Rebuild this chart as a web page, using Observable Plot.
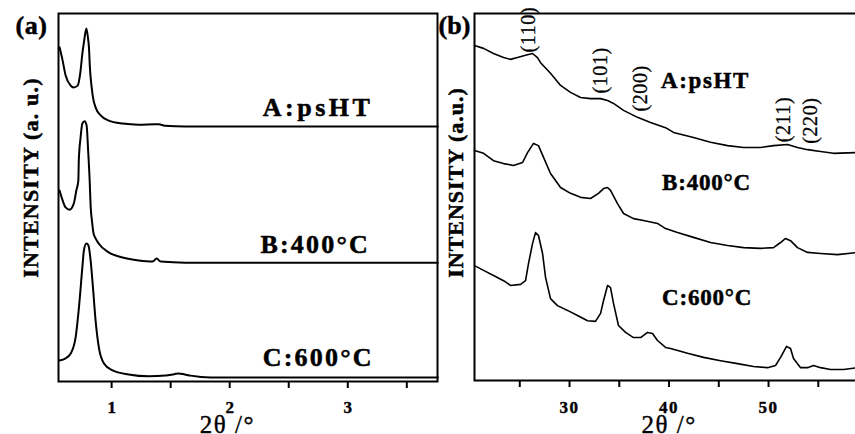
<!DOCTYPE html>
<html>
<head>
<meta charset="utf-8">
<script src="https://cdn.jsdelivr.net/npm/d3@7"></script>
<script src="https://cdn.jsdelivr.net/npm/@observablehq/plot@0.6"></script>
<style>
  html, body { margin: 0; padding: 0; background: #fff; }
  #wrap { position: relative; width: 855px; height: 434px; overflow: hidden; background: #fff; }
  #wrap svg { position: absolute; top: 0; overflow: visible; }
</style>
</head>
<body>
<div id="wrap"></div>
<script>
// ---------- (a) low-angle patterns, 2θ in degrees, intensity in a.u. (stacked) ----------
const lowA_x = [0.559,0.585,0.610,0.653,0.678,0.712,0.737,0.752,0.765,0.786,0.799,0.808,0.816,0.831,0.842,0.864,0.907,0.975,1.093,1.229,1.373,1.40,1.45,1.627,2.5,3.763];
const lowA_y = [90.8,87.2,83.2,80.4,79.9,80.4,84.5,89.1,92.1,95.9,93.5,90.8,85.3,79.9,77.2,74.5,72.3,70.9,70.1,69.8,69.9,69.9,69.5,69.3,69.3,69.3];

const lowB_x = [0.559,0.585,0.610,0.644,0.680,0.701,0.718,0.722,0.737,0.752,0.771,0.788,0.801,0.814,0.822,0.835,0.847,0.864,0.890,0.975,1.093,1.229,1.347,1.381,1.415,1.627,2.5,3.763];
const lowB_y = [51.9,49.2,47.3,46.7,48.4,51.9,54.6,60.1,66.3,70.1,70.7,69.6,62.8,54.6,47.8,43.2,40.2,38.9,37.5,35.1,33.7,32.9,32.6,33.4,32.6,32.3,32.3,32.3];

const lowC_x = [0.559,0.610,0.653,0.695,0.723,0.752,0.765,0.786,0.803,0.822,0.842,0.864,0.892,0.935,1.008,1.144,1.314,1.458,1.53,1.568,1.62,1.669,1.839,2.5,3.763];
const lowC_y = [5.7,6.3,7.6,12.0,20.1,31.0,35.6,37.5,37.0,32.9,25.5,16.6,9.2,4.9,3.0,1.9,1.4,1.6,2.0,2.2,1.9,1.6,1.1,1.1,1.1];

// ---------- (b) wide-angle patterns ----------
const wideA_x = [20.45,21.36,22.36,23.37,24.07,24.77,25.58,26.28,26.78,27.09,28.09,29.10,30.10,31.11,32.11,33.12,33.82,34.42,35.43,36.83,38.14,39.65,40.45,42.46,44.17,45.88,47.49,49.20,50.50,51.91,52.91,53.92,55.23,56.53,58.94];
const wideA_y = [91.3,90.5,89.1,88.0,87.5,88.0,88.6,89.1,88.0,86.6,83.7,80.4,78.5,77.1,76.8,76.8,76.3,75.5,73.6,71.7,70.3,68.9,67.6,66.2,64.9,64.0,63.5,63.5,64.0,64.3,63.5,62.9,62.4,61.9,62.1];

const wideB_x = [20.45,21.36,22.36,23.37,24.37,25.28,25.78,26.38,26.88,27.39,28.09,29.10,30.10,31.11,32.11,32.91,33.42,33.82,34.12,34.82,35.43,36.43,37.44,38.84,39.65,40.85,42.46,44.17,45.88,47.49,49.20,50.50,51.21,51.71,52.21,52.91,53.92,55.23,56.93,58.94];
const wideB_y = [62.7,61.9,59.9,59.1,58.6,59.4,62.1,64.6,64.0,60.8,56.4,52.6,51.0,49.9,49.6,51.0,52.3,52.6,51.8,48.2,45.5,44.1,43.6,42.8,41.4,40.3,39.0,37.6,36.8,36.2,36.0,36.2,37.6,38.7,38.1,36.2,34.9,34.6,34.3,34.9];

const wideC_x = [20.45,21.36,22.36,23.37,24.07,25.08,25.58,25.88,26.28,26.58,26.88,27.29,27.59,28.09,28.79,29.80,30.80,31.81,32.61,33.12,33.42,33.82,34.12,34.42,34.92,35.63,36.43,37.14,37.84,38.34,38.84,39.65,40.15,41.86,43.47,45.18,46.88,48.49,49.90,50.70,51.21,51.81,52.21,52.51,53.22,53.92,54.52,55.23,56.23,57.54,58.94];
const wideC_y = [31.3,30.0,28.6,27.2,25.9,26.2,27.2,31.9,37.3,40.3,39.5,34.6,28.1,22.3,20.4,19.1,17.7,16.3,16.1,18.3,21.8,25.9,25.3,21.0,15.0,13.1,11.7,11.7,13.1,12.8,10.9,9.0,8.7,7.4,6.3,5.4,4.6,3.8,3.5,4.1,6.3,9.3,8.7,6.0,3.5,3.5,4.1,3.5,3.0,3.0,3.5];

// sample names and where each name sits (2θ, a.u.)
const samples = ["A:psHT", "B:400°C", "C:600°C"];
const lowLabel_x = [2.28, 2.26, 2.28];
const lowLabel_y = [74.5, 37.3, 6.6];
const wideLabel_x = [39.2, 39.3, 39.3];
const wideLabel_y = [81.6, 53.8, 22.7];

// SnO2 reflections marked on (b)
const hkl = ["(110)", "(101)", "(200)", "(211)", "(220)"];
const hkl_x = [25.88, 33.12, 37.14, 51.51, 54.22];
const hkl_y = [95.6, 84.5, 79.6, 71.1, 70.8];

// axis ticks (numbers on the whole degrees only)
const lowTicks = [1, 1.5, 2, 2.5, 3, 3.5];
const lowTickLabels = [1, 2, 3];
const wideTicks = [25, 30, 35, 40, 45, 50, 55];
const wideTickLabels = [30, 40, 50];

const serif = "Liberation Serif";
const zip = (xs, ys, s) => xs.map((x, i) => ({x, y: ys[i], s}));

const lowData = [...zip(lowA_x, lowA_y, "A"), ...zip(lowB_x, lowB_y, "B"), ...zip(lowC_x, lowC_y, "C")];
const wideData = [...zip(wideA_x, wideA_y, "A"), ...zip(wideB_x, wideB_y, "B"), ...zip(wideC_x, wideC_y, "C")];
const lowLabels = samples.map((t, i) => ({t, x: lowLabel_x[i], y: lowLabel_y[i]}));
const wideLabels = samples.map((t, i) => ({t, x: wideLabel_x[i], y: wideLabel_y[i]}));
const hklLabels = hkl.map((t, i) => ({t, x: hkl_x[i], y: hkl_y[i]}));

// heavy print look for the bold lettering
const heavy = {fontFamily: serif, fontWeight: "bold", fill: "#000", stroke: "#000", strokeWidth: 0.5};

function panel({width, marginLeft, marginRight, marginBottom, domain, ticks, tickLabels, tickDy, data, strokeWidth, curve,
                labels, labelSize, extra, tag, tagDx, yTitle, yTitleDx, yTitleDy, xTitleAt, xTitleDy}) {
  return Plot.plot({
    width, height: 434,
    marginTop: 13, marginLeft, marginRight, marginBottom,
    style: {background: "transparent", overflow: "visible", fontFamily: serif, color: "#000"},
    x: {domain},
    y: {domain: [0, 100], axis: null},
    marks: [
      Plot.line(data, {x: "x", y: "y", z: "s", stroke: "#000", strokeWidth, curve}),
      Plot.frame({stroke: "#000", strokeWidth: 2}),
      // outward tick marks only; the numbers are set below as bold text
      Plot.axisX({ticks, tickSize: 7, strokeWidth: 2, label: null, tickFormat: () => ""}),
      Plot.text(tickLabels, {x: d => d, text: d => String(d), frameAnchor: "bottom", lineAnchor: "top", dy: tickDy,
        ...heavy, fontSize: 17, strokeWidth: 0.4}),
      Plot.text(labels, {x: "x", y: "y", text: "t", textAnchor: "start", ...heavy, fontSize: labelSize}),
      ...extra,
      Plot.text([tag], {frameAnchor: "top-left", textAnchor: "middle", lineAnchor: "middle", dx: tagDx, dy: 12,
        ...heavy, fontSize: 26}),
      Plot.text([yTitle], {frameAnchor: "left", textAnchor: "middle", lineAnchor: "middle", dx: yTitleDx, dy: yTitleDy,
        rotate: -90, ...heavy, fontSize: 22}),
      Plot.text(["2θ /°"], {x: [xTitleAt], frameAnchor: "bottom", lineAnchor: "middle", dy: xTitleDy,
        fontFamily: serif, fontSize: 25, fontWeight: "normal", fill: "#000", stroke: "#000", strokeWidth: 0.4})
    ]
  });
}

const left = panel({
  width: 440, marginLeft: 58, marginRight: 3, marginBottom: 53,
  domain: [0.55, 3.76], ticks: lowTicks, tickLabels: lowTickLabels, tickDy: 19.5, data: lowData, strokeWidth: 2, curve: "monotone-x",
  labels: lowLabels, labelSize: 26, extra: [],
  tag: "(a)", tagDx: -27, yTitle: "INTENSITY (a. u.)", yTitleDx: -28, yTitleDy: -20,
  xTitleAt: 1.98, xTitleDy: 43
});

const right = panel({
  width: 427, marginLeft: 44, marginRight: 0, marginBottom: 54,
  domain: [20.45, 58.94], ticks: wideTicks, tickLabels: wideTickLabels, tickDy: 20.5, data: wideData, strokeWidth: 1.6, curve: "linear",
  labels: wideLabels, labelSize: 23,
  extra: [Plot.text(hklLabels, {x: "x", y: "y", text: "t", rotate: -90, fontFamily: serif, fontSize: 20, fontWeight: "normal",
    fill: "#000", stroke: "#000", strokeWidth: 0.3})],
  tag: "(b)", tagDx: -20, yTitle: "INTENSITY (a.u.)", yTitleDx: -19, yTitleDy: -14.5,
  xTitleAt: 40, xTitleDy: 44
});

left.style.left = "0px";
right.style.left = "430px";
document.getElementById("wrap").append(left, right);

// widen the lettering of the annotations
function spacing(svg, map) {
  d3.select(svg).selectAll("text").each(function () {
    const v = map[this.textContent];
    if (v != null) this.setAttribute("letter-spacing", v);
  });
}
spacing(left, {"A:psHT": 3.5, "B:400°C": 2.2, "C:600°C": 2.2, "INTENSITY (a. u.)": 1.2, "2θ /°": 1.5, "(a)": 0.5});
spacing(right, {"A:psHT": 1.6, "B:400°C": 0.8, "C:600°C": 0.8, "INTENSITY (a.u.)": 1.0, "2θ /°": 1.5,
  "(110)": 0.6, "(101)": 0.6, "(200)": 0.6, "(211)": 0.6, "(220)": 0.6, "30": 1.5, "40": 1.5, "50": 1.5});
</script>
</body>
</html>
